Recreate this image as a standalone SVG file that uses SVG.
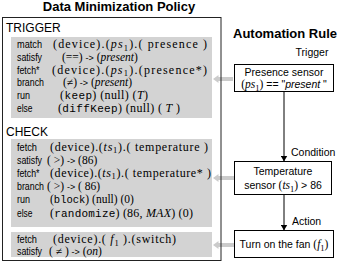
<svg xmlns="http://www.w3.org/2000/svg" width="341" height="264" viewBox="0 0 341 264">
<defs>
<marker id="ah" markerWidth="6" markerHeight="7" refX="5.5" refY="3.5" orient="auto" markerUnits="userSpaceOnUse">
<path d="M0,0 L6,3.5 L0,7 Z" fill="#000"/>
</marker>
</defs>
<style>
.title{font-family:"Liberation Sans",Arial,sans-serif;font-weight:bold;font-size:13px;fill:#000}
.sec{font-family:"Liberation Sans",Arial,sans-serif;font-size:12px;fill:#000}
.lab{font-family:"Liberation Sans",Arial,sans-serif;font-size:10px;fill:#000}
.val{font-family:"Liberation Serif","Times New Roman",serif;font-size:12px;fill:#000}
.sv{font-size:11.5px}
.m{font-family:"Liberation Mono","Courier New",monospace;font-size:11px}
.i{font-style:italic}
.s{font-size:8.5px}
.ar{font-family:"Liberation Sans",Arial,sans-serif;font-size:9px}
.node{font-family:"Liberation Sans",Arial,sans-serif;font-size:10.5px;fill:#000}
.nv{font-family:"Liberation Serif","Times New Roman",serif;font-size:11.5px}
.gray{fill:#d3d3d3}
.box{fill:#fff;stroke:#000;stroke-width:1}
.garrow{fill:#cbcbcb}
.edge{stroke:#000;stroke-width:1;fill:none}
</style>

<text class="title" x="119" y="11" text-anchor="middle">Data Minimization Policy</text>
<text class="title" x="285" y="38" text-anchor="middle">Automation Rule</text>

<g id="connectors">
<polygon class="garrow" points="213,79 218.5,75 218.5,77 233,77 233,81 218.5,81 218.5,83"/>
<polygon class="garrow" points="213,178 218.5,174 218.5,176 234,176 234,180 218.5,180 218.5,182"/>
<polygon class="garrow" points="213,245 218.5,241 218.5,243 234,243 234,247 218.5,247 218.5,249"/>
<line class="edge" x1="284" y1="91" x2="284" y2="161" marker-end="url(#ah)"/>
<line class="edge" x1="284" y1="194" x2="284" y2="230" marker-end="url(#ah)"/>
<text class="node" x="291" y="156">Condition</text>
<text class="node" x="292" y="225">Action</text>
</g>

<g id="policy">
<rect x="2.5" y="17.5" width="218.5" height="243" fill="none" stroke="#222" stroke-width="1"/>

<g id="trigger">
<text class="sec" x="6" y="32">TRIGGER</text>
<rect class="gray" x="11" y="37" width="201" height="81"/>
<text class="lab" x="17" y="48" textLength="25" lengthAdjust="spacingAndGlyphs">match</text>
<text class="lab" x="17" y="60.8" textLength="25" lengthAdjust="spacingAndGlyphs">satisfy</text>
<text class="lab" x="17" y="73.6" textLength="22.5" lengthAdjust="spacingAndGlyphs">fetch*</text>
<text class="lab" x="17" y="86.4" textLength="27" lengthAdjust="spacingAndGlyphs">branch</text>
<text class="lab" x="17" y="99.2" textLength="13" lengthAdjust="spacingAndGlyphs">run</text>
<text class="lab" x="17" y="112" textLength="15.5" lengthAdjust="spacingAndGlyphs">else</text>
<text class="val" x="53" y="48" textLength="154" lengthAdjust="spacing">(device).(<tspan class="i">ps</tspan><tspan class="s" dy="2.5">1</tspan><tspan dy="-2.5">).( presence )</tspan></text>
<text class="val sv" x="62" y="60.8">(==) <tspan class="ar">-&gt;</tspan> (<tspan class="i">present</tspan>)</text>
<text class="val" x="52" y="73.6" textLength="155" lengthAdjust="spacing">(device).(<tspan class="i">ps</tspan><tspan class="s" dy="2.5">1</tspan><tspan dy="-2.5">).(presence*)</tspan></text>
<text class="val sv" x="63" y="86.4">(≠) <tspan class="ar">-&gt;</tspan> (<tspan class="i">present</tspan>)</text>
<text class="val" x="60" y="99.2" textLength="88" lengthAdjust="spacing">(<tspan class="m">keep</tspan>) (null) (<tspan class="i">T</tspan>)</text>
<text class="val" x="58" y="112" textLength="122" lengthAdjust="spacing">(<tspan class="m">diffKeep</tspan>) (null) ( <tspan class="i">T</tspan> )</text>
</g>

<g id="check">
<text class="sec" x="6" y="136">CHECK</text>
<rect class="gray" x="11" y="139" width="201" height="88"/>
<text class="lab" x="17" y="150.5" textLength="20" lengthAdjust="spacingAndGlyphs">fetch</text>
<text class="lab" x="17" y="163.7" textLength="25" lengthAdjust="spacingAndGlyphs">satisfy</text>
<text class="lab" x="17" y="176.9" textLength="22.5" lengthAdjust="spacingAndGlyphs">fetch*</text>
<text class="lab" x="17" y="190.1" textLength="27" lengthAdjust="spacingAndGlyphs">branch</text>
<text class="lab" x="17" y="203.3" textLength="13" lengthAdjust="spacingAndGlyphs">run</text>
<text class="lab" x="17" y="216.5" textLength="15.5" lengthAdjust="spacingAndGlyphs">else</text>
<text class="val" x="50" y="150.5" textLength="158" lengthAdjust="spacing">(device).(<tspan class="i">ts</tspan><tspan class="s" dy="2.5">1</tspan><tspan dy="-2.5">).( temperature )</tspan></text>
<text class="val sv" x="47" y="163.7">( &gt;) <tspan class="ar">-&gt;</tspan> (86)</text>
<text class="val" x="50" y="176.9" textLength="161" lengthAdjust="spacing">(device).(<tspan class="i">ts</tspan><tspan class="s" dy="2.5">1</tspan><tspan dy="-2.5">).( temperature* )</tspan></text>
<text class="val sv" x="47" y="190.1">( &gt;) <tspan class="ar">-&gt;</tspan> ( 86)</text>
<text class="val sv" x="50" y="203.3">(<tspan class="m" style="font-size:10.5px">block</tspan>) (null) (0)</text>
<text class="val" x="50" y="216.5" textLength="143" lengthAdjust="spacing">(<tspan class="m">randomize</tspan>) (86, <tspan class="i">MAX</tspan>) (0)</text>
</g>

<g id="action">
<rect class="gray" x="11" y="232" width="201" height="25"/>
<text class="lab" x="17" y="243" textLength="20" lengthAdjust="spacingAndGlyphs">fetch</text>
<text class="lab" x="17" y="255" textLength="25" lengthAdjust="spacingAndGlyphs">satisfy</text>
<text class="val" x="53" y="243" textLength="123" lengthAdjust="spacing">(device).( <tspan class="i">f</tspan><tspan class="s" dy="2.5">1</tspan><tspan dy="-2.5"> ).(switch)</tspan></text>
<text class="val sv" x="49" y="255">( ≠ ) <tspan class="ar">-&gt;</tspan> (<tspan class="i">on</tspan>)</text>
</g>
</g>

<text class="node" x="312" y="56" text-anchor="middle">Trigger</text>

<g id="n-trigger">
<rect class="box" x="234.5" y="64.5" width="99" height="27"/>
<text class="node" x="284" y="76" text-anchor="middle">Presence sensor</text>
<text class="node" x="284" y="88" text-anchor="middle"><tspan class="nv">(<tspan class="i">ps</tspan><tspan class="s" dy="2.5">1</tspan><tspan dy="-2.5">)</tspan></tspan> == "<tspan class="i">present</tspan> "</text>
</g>

<g id="n-condition">
<rect class="box" x="234.5" y="161.5" width="97" height="33"/>
<text class="node" x="283" y="175" text-anchor="middle">Temperature</text>
<text class="node" x="283" y="189" text-anchor="middle">sensor <tspan class="nv">(<tspan class="i">ts</tspan><tspan class="s" dy="2.5">1</tspan><tspan dy="-2.5">)</tspan></tspan> &gt; 86</text>
</g>

<g id="n-action">
<rect class="box" x="234.5" y="230.5" width="99" height="27"/>
<text class="node" x="284" y="248" text-anchor="middle">Turn on the fan <tspan class="nv">(<tspan class="i">f</tspan><tspan class="s" dy="2.5">1</tspan><tspan dy="-2.5">)</tspan></tspan></text>
</g>
</svg>
